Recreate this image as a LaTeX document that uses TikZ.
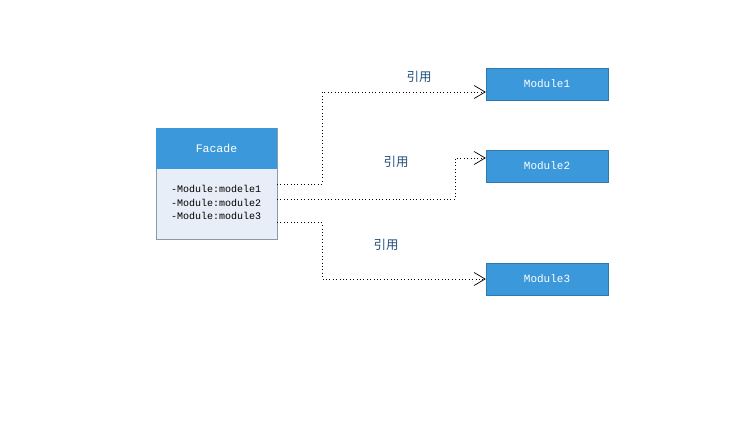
\documentclass[tikz,border=0pt]{standalone}
\usepackage{fontspec}
\setmonofont{Liberation Mono}
\newfontfamily\cjk{Noto Sans CJK SC}
\usetikzlibrary{arrows.meta}
\definecolor{hdr}{HTML}{3A98DB}
\definecolor{bodyc}{HTML}{E8EEF7}
\definecolor{bordc}{HTML}{8A9AAA}
\definecolor{lblc}{HTML}{1F4F7A}
\tikzset{
  modbox/.style={draw=hdr!80!black, fill=hdr, minimum width=122pt, minimum height=32pt, inner sep=0pt, text=white, font=\ttfamily\fontsize{11}{12}\selectfont},
  conn/.style={draw=black, line width=0.8pt, dash pattern=on 0.8pt off 2.6pt, -{Straight Barb[length=11pt,width=13pt,line width=0.7pt]}},
  lbl/.style={text=lblc, font=\cjk\fontsize{12.5}{14}\selectfont, inner sep=0pt},
  attr/.style={font=\ttfamily\fontsize{10}{11}\selectfont, inner sep=0pt, anchor=west}
}
\begin{document}
\begin{tikzpicture}[x=1pt,y=-1pt]
\useasboundingbox (0,0) rectangle (750,424);
\fill[white] (0,0) rectangle (750,424);
% Facade class
\path[fill=bodyc, draw=bordc, line width=0.6pt] (156,128) rectangle (277,239);
\path[fill=hdr] (156.3,128.3) rectangle (276.7,168.5);
\node[text=white, font=\ttfamily\fontsize{11.5}{12}\selectfont] (facade) at (216.5,148) {Facade};
\node[attr] (a1) at (171,189) {-Module:modele1};
\node[attr] (a2) at (171,202.5) {-Module:module2};
\node[attr] (a3) at (171,216) {-Module:module3};
\coordinate (s1) at (277,184);
\coordinate (s2) at (277,199);
\coordinate (s3) at (277,222.5);
% modules
\node[modbox] (m1) at (547,84) {Module1};
\node[modbox] (m2) at (547,166) {Module2};
\node[modbox] (m3) at (547,279) {Module3};
% connectors
\draw[conn] (s1) -- (322,184) -- (322,92) -- (m1.west |- 0,92);
\draw[conn] (s2) -- (455,199) -- (455,158) -- (m2.west |- 0,158);
\draw[conn] (s3) -- (322,222.5) -- (322,279) -- (m3.west);
% labels
\node[lbl] (l1) at (419,77) {引用};
\node[lbl] (l2) at (396,162) {引用};
\node[lbl] (l3) at (386,245) {引用};
\end{tikzpicture}
\end{document}
